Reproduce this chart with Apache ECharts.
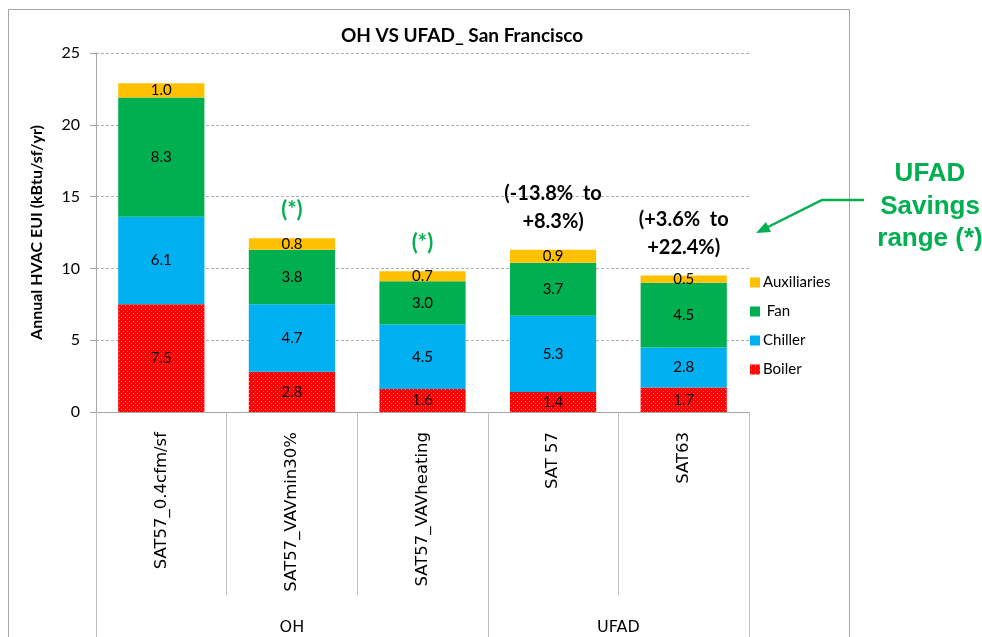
<!DOCTYPE html>
<html>
<head>
<meta charset="utf-8">
<script src="https://cdn.jsdelivr.net/npm/echarts@6/dist/echarts.min.js"></script>
<style>
html,body{margin:0;padding:0;background:#fff;}
#c{width:982px;height:637px;}
</style>
</head>
<body>
<div id="c"></div>
<script>
const categories = ['SAT57_0.4cfm/sf', 'SAT57_VAVmin30%', 'SAT57_VAVheating', 'SAT 57', 'SAT63'];
const groupNames = ['OH', 'UFAD'];
const groupStarts = [0, 3];
const groupEnds = [2, 4];
const boiler = [7.5, 2.8, 1.6, 1.4, 1.7];
const chiller = [6.1, 4.7, 4.5, 5.3, 2.8];
const fan = [8.3, 3.8, 3.0, 3.7, 4.5];
const aux = [1.0, 0.8, 0.7, 0.9, 0.5];
const seriesNames = ['Boiler', 'Chiller', 'Fan', 'Auxiliaries'];
const legendOrder = ['Auxiliaries', 'Fan', 'Chiller', 'Boiler'];
const annotationTexts = ['', '(*)', '(*)', '(-13.8%  to\n+8.3%)', '(+3.6%  to\n+22.4%)'];
const annotationIsStar = [false, true, true, false, false];
const sideNote = 'UFAD\nSavings\nrange (*)';
const titleText = 'OH VS UFAD_ San Francisco';
const yAxisName = 'Annual HVAC EUI (kBtu/sf/yr)';

const GREEN = '#00b050';
const FONT = 'Lato, "Noto Sans", sans-serif';

// dotted red pattern
const pc = document.createElement('canvas');
pc.width = 4; pc.height = 4;
const pctx = pc.getContext('2d');
pctx.fillStyle = '#ff0000';
pctx.fillRect(0, 0, 4, 4);
pctx.fillStyle = '#ff9c9c';
pctx.fillRect(1, 1, 1, 1);
pctx.fillStyle = '#ff5a5a';
pctx.fillRect(3, 3, 1, 1);
const redPattern = { image: pc, repeat: 'repeat' };

const colors = { Boiler: redPattern, Chiller: '#00b0f0', Fan: GREEN, Auxiliaries: '#ffc000' };
const values = { Boiler: boiler, Chiller: chiller, Fan: fan, Auxiliaries: aux };

const chart = echarts.init(document.getElementById('c'), null, { renderer: 'canvas' });

const series = seriesNames.map(n => ({
  name: n,
  type: 'bar',
  stack: 'total',
  barWidth: '66%',
  data: values[n],
  itemStyle: { color: colors[n] },
  label: {
    show: true,
    position: 'inside',
    color: '#000',
    fontFamily: FONT,
    fontSize: 15,
    formatter: p => p.value.toFixed(1)
  },
  emphasis: { disabled: true }
}));

const option = {
  animation: false,
  backgroundColor: '#fff',
  grid: { left: 96, right: 233, top: 53, bottom: 225 },
  title: {
    text: titleText,
    left: 336, top: 21,
    textStyle: { fontFamily: FONT, fontWeight: 'bold', fontSize: 19, color: '#000' }
  },
  legend: {
    orient: 'vertical',
    left: 745, top: 270,
    data: legendOrder,
    itemWidth: 10, itemHeight: 10, itemGap: 14,
    icon: 'rect',
    formatter: n => n === 'Fan' ? ' Fan' : n,
    textStyle: { fontFamily: FONT, fontSize: 15, color: '#000', padding: [0, 0, 0, -2] }
  },
  xAxis: {
    type: 'category',
    data: categories,
    axisLine: { lineStyle: { color: '#a6a6a6' } },
    axisTick: { show: true, length: 183, lineStyle: { color: '#c0c0c0' } },
    axisLabel: {
      rotate: 90, margin: 20, interval: 0,
      fontFamily: '"DejaVu Sans", sans-serif', fontSize: 16.5, color: '#000'
    }
  },
  yAxis: {
    type: 'value',
    min: 0, max: 25, interval: 5,
    name: yAxisName,
    nameLocation: 'middle',
    nameGap: 51,
    nameTextStyle: { fontFamily: FONT, fontWeight: 'bold', fontSize: 16, color: '#000' },
    axisLine: { show: true, lineStyle: { color: '#a6a6a6' } },
    axisTick: { show: true, length: 6, lineStyle: { color: '#a6a6a6' } },
    axisLabel: { fontFamily: FONT, fontSize: 16, color: '#000', margin: 16 },
    splitLine: { lineStyle: { color: '#b0b0b0', type: [3, 2] } }
  },
  series: series
};
chart.setOption(option);

// annotation graphics computed from the axes
const totals = categories.map((_, i) => boiler[i] + chiller[i] + fan[i] + aux[i]);
const graphics = [];
graphics.push({
  type: 'rect', z: -1, silent: true,
  shape: { x: 8.5, y: 9.5, width: 841, height: 660 },
  style: { fill: null, stroke: '#a6a6a6', lineWidth: 1 }
});
const p0 = chart.convertToPixel({ xAxisIndex: 0, yAxisIndex: 0 }, [0, 0]);
const p1 = chart.convertToPixel({ xAxisIndex: 0, yAxisIndex: 0 }, [1, 0]);
const band = p1[0] - p0[0];
const yBase = p0[1];
groupNames.forEach((g, k) => {
  const xs = chart.convertToPixel({ xAxisIndex: 0 }, groupStarts[k]) - band / 2;
  const xe = chart.convertToPixel({ xAxisIndex: 0 }, groupEnds[k]) + band / 2;
  [xs, xe].forEach(x => graphics.push({
    type: 'line', silent: true,
    shape: { x1: Math.round(x) + 0.5, y1: yBase, x2: Math.round(x) + 0.5, y2: 660 },
    style: { stroke: '#c0c0c0', lineWidth: 1 }
  }));
  graphics.push({
    type: 'text', silent: true,
    style: {
      text: g, x: (xs + xe) / 2, y: 628,
      align: 'center', verticalAlign: 'middle',
      fontFamily: '"DejaVu Sans", sans-serif', fontSize: 16, fill: '#000'
    }
  });
});
annotationTexts.forEach((t, i) => {
  if (!t) return;
  const p = chart.convertToPixel({ xAxisIndex: 0, yAxisIndex: 0 }, [i, totals[i]]);
  graphics.push({
    type: 'text', silent: true,
    style: {
      text: t, x: p[0], y: p[1] - 14,
      align: 'center', verticalAlign: 'bottom',
      lineHeight: 28,
      fontFamily: FONT, fontWeight: 'bold',
      fontSize: annotationIsStar[i] ? 22 : 20,
      fill: annotationIsStar[i] ? GREEN : '#000'
    }
  });
});
graphics.push({
  type: 'text', silent: true,
  style: {
    text: sideNote, x: 930, y: 158,
    align: 'center', verticalAlign: 'top', lineHeight: 32.5,
    fontFamily: '"Liberation Sans", Arial, sans-serif', fontWeight: 'bold', fontSize: 26,
    fill: GREEN
  }
});
graphics.push({
  type: 'polyline', silent: true,
  shape: { points: [[864, 200], [822, 200], [764, 229]] },
  style: { stroke: GREEN, lineWidth: 2.5, fill: null }
});
graphics.push({
  type: 'polygon', silent: true,
  shape: { points: [[756, 233], [766, 222], [771, 232]] },
  style: { fill: GREEN }
});
chart.setOption({ graphic: graphics });
</script>
</body>
</html>
